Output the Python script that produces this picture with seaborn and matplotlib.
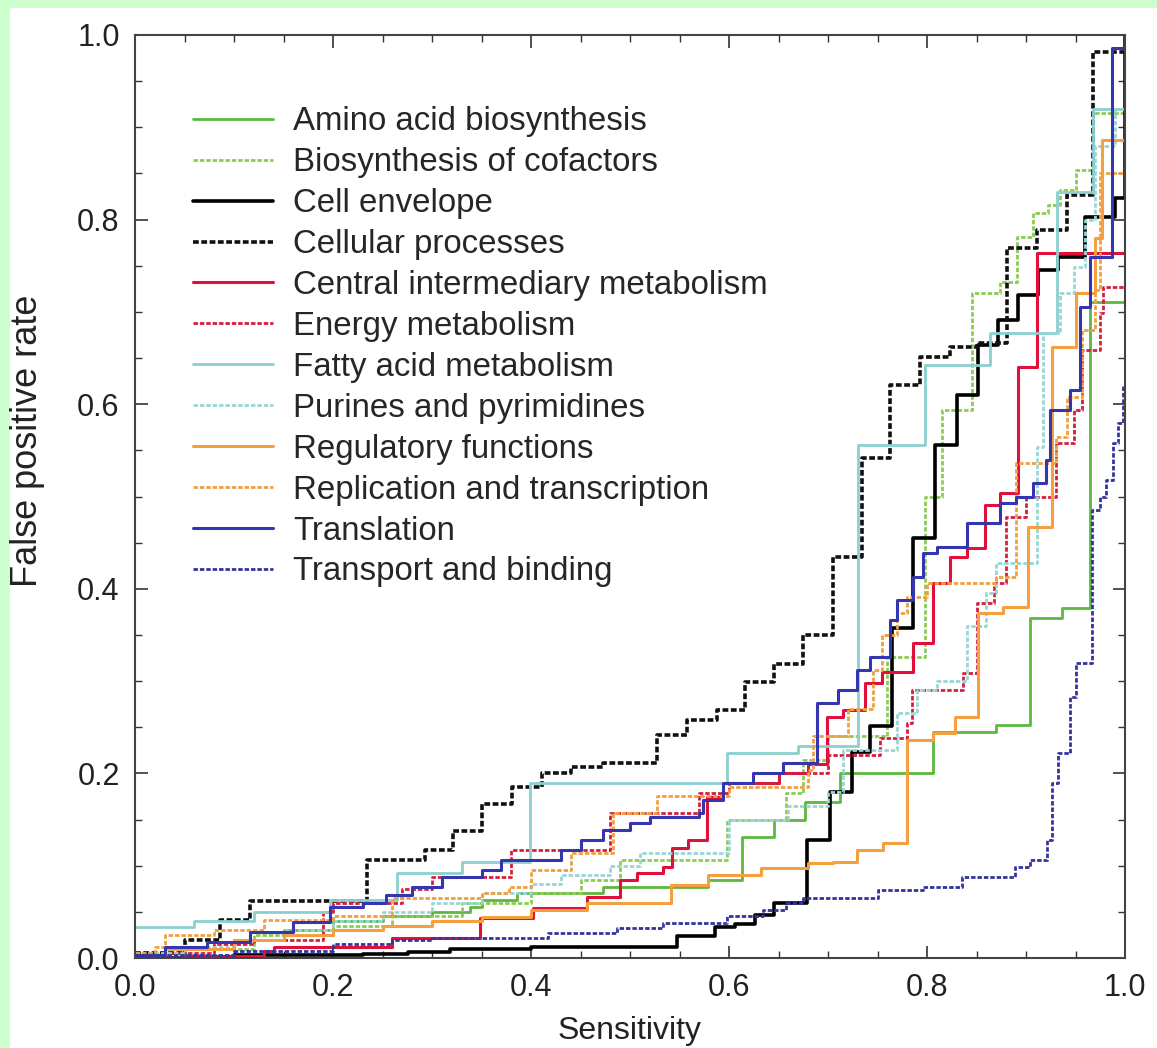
import numpy as np
import pandas as pd
import matplotlib
matplotlib.use("Agg")
import matplotlib.pyplot as plt
import seaborn as sns
from matplotlib.patches import Rectangle
from matplotlib.ticker import MultipleLocator

# ROC-style step curves, (sensitivity, false positive rate) at each step
amino_x = [0.0, 0.05, 0.1, 0.15, 0.2, 0.25, 0.3, 0.338, 0.35, 0.386, 0.473, 0.579, 0.613, 0.645, 0.677, 0.712, 0.806, 0.87, 0.904, 0.936, 0.965, 0.998, 1.0]
amino_y = [0.0, 0.01, 0.02, 0.03, 0.04, 0.045, 0.05, 0.055, 0.063, 0.07, 0.077, 0.085, 0.131, 0.15, 0.169, 0.2, 0.245, 0.252, 0.368, 0.379, 0.711, 0.711, 1.0]

cofac_x = [0.0, 0.05, 0.12, 0.2, 0.26, 0.33, 0.4, 0.45, 0.49, 0.598, 0.658, 0.675, 0.7, 0.76, 0.798, 0.815, 0.845, 0.874, 0.891, 0.907, 0.922, 0.934, 0.951, 0.968, 1.0]
cofac_y = [0.003, 0.01, 0.025, 0.035, 0.045, 0.06, 0.07, 0.085, 0.106, 0.15, 0.179, 0.215, 0.24, 0.326, 0.5, 0.594, 0.72, 0.732, 0.781, 0.807, 0.816, 0.832, 0.854, 0.915, 0.98]

envel_x = [0.0, 0.1, 0.23, 0.276, 0.318, 0.4, 0.547, 0.586, 0.606, 0.626, 0.645, 0.679, 0.702, 0.724, 0.742, 0.765, 0.786, 0.808, 0.83, 0.852, 0.872, 0.892, 0.912, 0.932, 0.96, 0.99, 1.0]
envel_y = [0.0, 0.003, 0.004, 0.006, 0.01, 0.012, 0.024, 0.034, 0.037, 0.047, 0.06, 0.128, 0.18, 0.223, 0.251, 0.357, 0.455, 0.556, 0.61, 0.664, 0.691, 0.718, 0.745, 0.76, 0.803, 0.823, 1.0]

cellp_x = [0.0, 0.05, 0.086, 0.116, 0.234, 0.293, 0.321, 0.35, 0.381, 0.411, 0.44, 0.473, 0.527, 0.558, 0.588, 0.616, 0.645, 0.675, 0.705, 0.734, 0.763, 0.793, 0.823, 0.85, 0.881, 0.911, 0.941, 0.968, 1.0]
cellp_y = [0.005, 0.02, 0.041, 0.062, 0.106, 0.117, 0.138, 0.167, 0.185, 0.2, 0.207, 0.211, 0.242, 0.258, 0.269, 0.299, 0.319, 0.35, 0.434, 0.542, 0.621, 0.651, 0.662, 0.666, 0.769, 0.789, 0.827, 0.982, 0.982]

centr_x = [0.0, 0.05, 0.13, 0.14, 0.26, 0.348, 0.402, 0.457, 0.49, 0.507, 0.533, 0.542, 0.559, 0.578, 0.594, 0.65, 0.68, 0.699, 0.715, 0.737, 0.755, 0.786, 0.806, 0.823, 0.84, 0.859, 0.874, 0.892, 0.911, 1.0]
centr_y = [0.0, 0.002, 0.008, 0.012, 0.022, 0.043, 0.054, 0.066, 0.085, 0.092, 0.099, 0.119, 0.128, 0.174, 0.19, 0.2, 0.21, 0.261, 0.269, 0.298, 0.31, 0.341, 0.406, 0.434, 0.444, 0.491, 0.504, 0.64, 0.764, 0.985]

energ_x = [0.0, 0.03, 0.08, 0.12, 0.19, 0.2, 0.27, 0.3, 0.38, 0.48, 0.57, 0.6, 0.65, 0.7, 0.753, 0.78, 0.785, 0.836, 0.85, 0.868, 0.88, 0.9, 0.93, 0.948, 0.957, 0.975, 0.978, 1.0]
energ_y = [0.0, 0.005, 0.015, 0.02, 0.05, 0.06, 0.075, 0.088, 0.117, 0.157, 0.179, 0.19, 0.2, 0.22, 0.238, 0.255, 0.29, 0.309, 0.385, 0.406, 0.478, 0.5, 0.558, 0.594, 0.659, 0.699, 0.727, 0.98]

fatty_x = [0.0, 0.06, 0.12, 0.197, 0.265, 0.33, 0.399, 0.598, 0.67, 0.73, 0.798, 0.864, 0.931, 0.968, 1.0]
fatty_y = [0.034, 0.04, 0.05, 0.063, 0.092, 0.104, 0.19, 0.222, 0.23, 0.556, 0.642, 0.677, 0.83, 0.92, 0.92]

purin_x = [0.0, 0.05, 0.1, 0.15, 0.2, 0.25, 0.3, 0.35, 0.4, 0.43, 0.48, 0.51, 0.6, 0.66, 0.7, 0.715, 0.77, 0.79, 0.81, 0.84, 0.86, 0.87, 0.911, 0.917, 0.934, 0.948, 0.96, 0.97, 0.99]
purin_y = [0.005, 0.012, 0.02, 0.03, 0.04, 0.05, 0.06, 0.07, 0.08, 0.09, 0.1, 0.114, 0.15, 0.165, 0.18, 0.225, 0.265, 0.29, 0.3, 0.36, 0.395, 0.428, 0.554, 0.677, 0.72, 0.749, 0.8, 0.88, 0.92]

regul_x = [0.0, 0.03, 0.1, 0.15, 0.2, 0.25, 0.3, 0.35, 0.4, 0.457, 0.541, 0.579, 0.632, 0.68, 0.705, 0.729, 0.756, 0.78, 0.806, 0.828, 0.852, 0.877, 0.902, 0.926, 0.951, 0.97, 0.977, 1.0]
regul_y = [0.003, 0.01, 0.02, 0.025, 0.03, 0.035, 0.04, 0.044, 0.052, 0.06, 0.079, 0.09, 0.098, 0.103, 0.104, 0.117, 0.125, 0.236, 0.244, 0.261, 0.374, 0.38, 0.467, 0.662, 0.72, 0.78, 0.886, 0.886]

repli_x = [0.0, 0.02, 0.03, 0.08, 0.13, 0.2, 0.26, 0.35, 0.378, 0.4, 0.44, 0.483, 0.527, 0.6, 0.68, 0.685, 0.72, 0.745, 0.755, 0.77, 0.78, 0.8, 0.87, 0.89, 0.93, 0.941, 0.957, 0.97, 0.975, 1.0]
repli_y = [0.005, 0.012, 0.025, 0.03, 0.041, 0.045, 0.065, 0.07, 0.077, 0.095, 0.114, 0.157, 0.175, 0.185, 0.204, 0.24, 0.27, 0.312, 0.35, 0.374, 0.391, 0.406, 0.413, 0.536, 0.564, 0.608, 0.68, 0.724, 0.85, 0.95]

trans_x = [0.0, 0.03, 0.073, 0.116, 0.16, 0.197, 0.23, 0.254, 0.28, 0.31, 0.35, 0.37, 0.43, 0.45, 0.473, 0.5, 0.52, 0.57, 0.574, 0.594, 0.624, 0.655, 0.689, 0.71, 0.729, 0.742, 0.763, 0.77, 0.786, 0.796, 0.81, 0.84, 0.874, 0.89, 0.907, 0.92, 0.924, 0.944, 0.955, 0.965, 0.987, 1.0]
trans_y = [0.003, 0.012, 0.017, 0.028, 0.039, 0.055, 0.06, 0.068, 0.077, 0.088, 0.095, 0.106, 0.117, 0.128, 0.139, 0.146, 0.153, 0.157, 0.171, 0.19, 0.2, 0.211, 0.276, 0.29, 0.312, 0.326, 0.366, 0.388, 0.413, 0.439, 0.445, 0.471, 0.493, 0.5, 0.515, 0.54, 0.594, 0.615, 0.705, 0.76, 0.986, 0.986]

trbind_x = [0.0, 0.1, 0.2, 0.26, 0.3, 0.417, 0.487, 0.533, 0.598, 0.634, 0.658, 0.675, 0.75, 0.796, 0.835, 0.889, 0.904, 0.921, 0.926, 0.932, 0.944, 0.951, 0.967, 0.975, 0.981, 0.988, 0.993, 0.998, 1.0]
trbind_y = [0.003, 0.008, 0.015, 0.02, 0.022, 0.027, 0.033, 0.038, 0.045, 0.052, 0.06, 0.065, 0.074, 0.077, 0.088, 0.099, 0.106, 0.128, 0.19, 0.222, 0.283, 0.32, 0.485, 0.5, 0.518, 0.558, 0.58, 0.62, 1.0]

labels = ["Amino acid biosynthesis", "Biosynthesis of cofactors", "Cell envelope",
          "Cellular processes", "Central intermediary metabolism", "Energy metabolism",
          "Fatty acid metabolism", "Purines and pyrimidines", "Regulatory functions",
          "Replication and transcription", "Translation", "Transport and binding"]
xs = [amino_x, cofac_x, envel_x, cellp_x, centr_x, energ_x, fatty_x, purin_x, regul_x, repli_x, trans_x, trbind_x]
ys = [amino_y, cofac_y, envel_y, cellp_y, centr_y, energ_y, fatty_y, purin_y, regul_y, repli_y, trans_y, trbind_y]

colors = ["#5cb840", "#8ccc55", "#000000", "#111111", "#e0103a", "#d42040",
          "#8ccfcf", "#9ad6d6", "#f5a040", "#f0a040", "#3535b0", "#34349c"]
dotted = (0, (1.6, 0.7))
styles = ["-", dotted, "-", dotted, "-", dotted, "-", dotted, "-", dotted, "-", dotted]
widths = [2.0, 2.0, 2.6, 2.6, 2.2, 2.0, 2.0, 2.0, 2.2, 2.0, 2.2, 2.0]

sns.set_theme(style="ticks")
plt.rcParams['font.family'] = ['Liberation Sans', 'DejaVu Sans']

fig = plt.figure(figsize=(11.57, 10.48), dpi=100, facecolor="#ccffcc")
# white panel inside the green frame, kept behind the axes
fig.add_artist(Rectangle((10 / 1157, 0), 1, 1 - 8 / 1048, transform=fig.transFigure,
                         facecolor="white", edgecolor="none", zorder=-10))
ax = fig.add_axes([135 / 1157, 90 / 1048, 990 / 1157, 923 / 1048])
ax.set_facecolor("white")

for lab, x, y, c, ls, lw in zip(labels, xs, ys, colors, styles, widths):
    df = pd.DataFrame({"sens": x, "fpr": y})
    sns.lineplot(data=df, x="sens", y="fpr", ax=ax, color=c, linestyle=ls, linewidth=lw,
                 drawstyle="steps-post", estimator=None, sort=False, label=lab)

ax.set_xlim(0, 1)
ax.set_ylim(0, 1)
ax.xaxis.set_major_locator(MultipleLocator(0.2))
ax.yaxis.set_major_locator(MultipleLocator(0.2))
ax.xaxis.set_minor_locator(MultipleLocator(0.05))
ax.yaxis.set_minor_locator(MultipleLocator(0.05))
ax.tick_params(which="both", direction="in", top=True, right=True, colors="#333333",
               labelcolor="#222222", labelsize=22, pad=11)
ax.tick_params(which="major", length=9, width=1.2)
ax.tick_params(which="minor", length=5, width=1.0)
ax.xaxis.set_major_formatter(matplotlib.ticker.FormatStrFormatter("%.1f"))
ax.yaxis.set_major_formatter(matplotlib.ticker.FormatStrFormatter("%.1f"))
for s in ax.spines.values():
    s.set_color("#444444")
    s.set_linewidth(1.5)

ax.set_xlabel("Sensitivity", fontsize=23, color="#222222", labelpad=9)
ax.set_ylabel("False positive rate", fontsize=26, color="#222222")
ax.yaxis.set_label_coords(-0.091, 0.56)

ax.legend(loc="upper left", bbox_to_anchor=(0.0455, 0.937), frameon=False, fontsize=23.8,
          handlelength=2.42, handletextpad=0.6, labelspacing=0.3, borderaxespad=0)

fig.savefig("out.png", dpi=100, facecolor=fig.get_facecolor())
